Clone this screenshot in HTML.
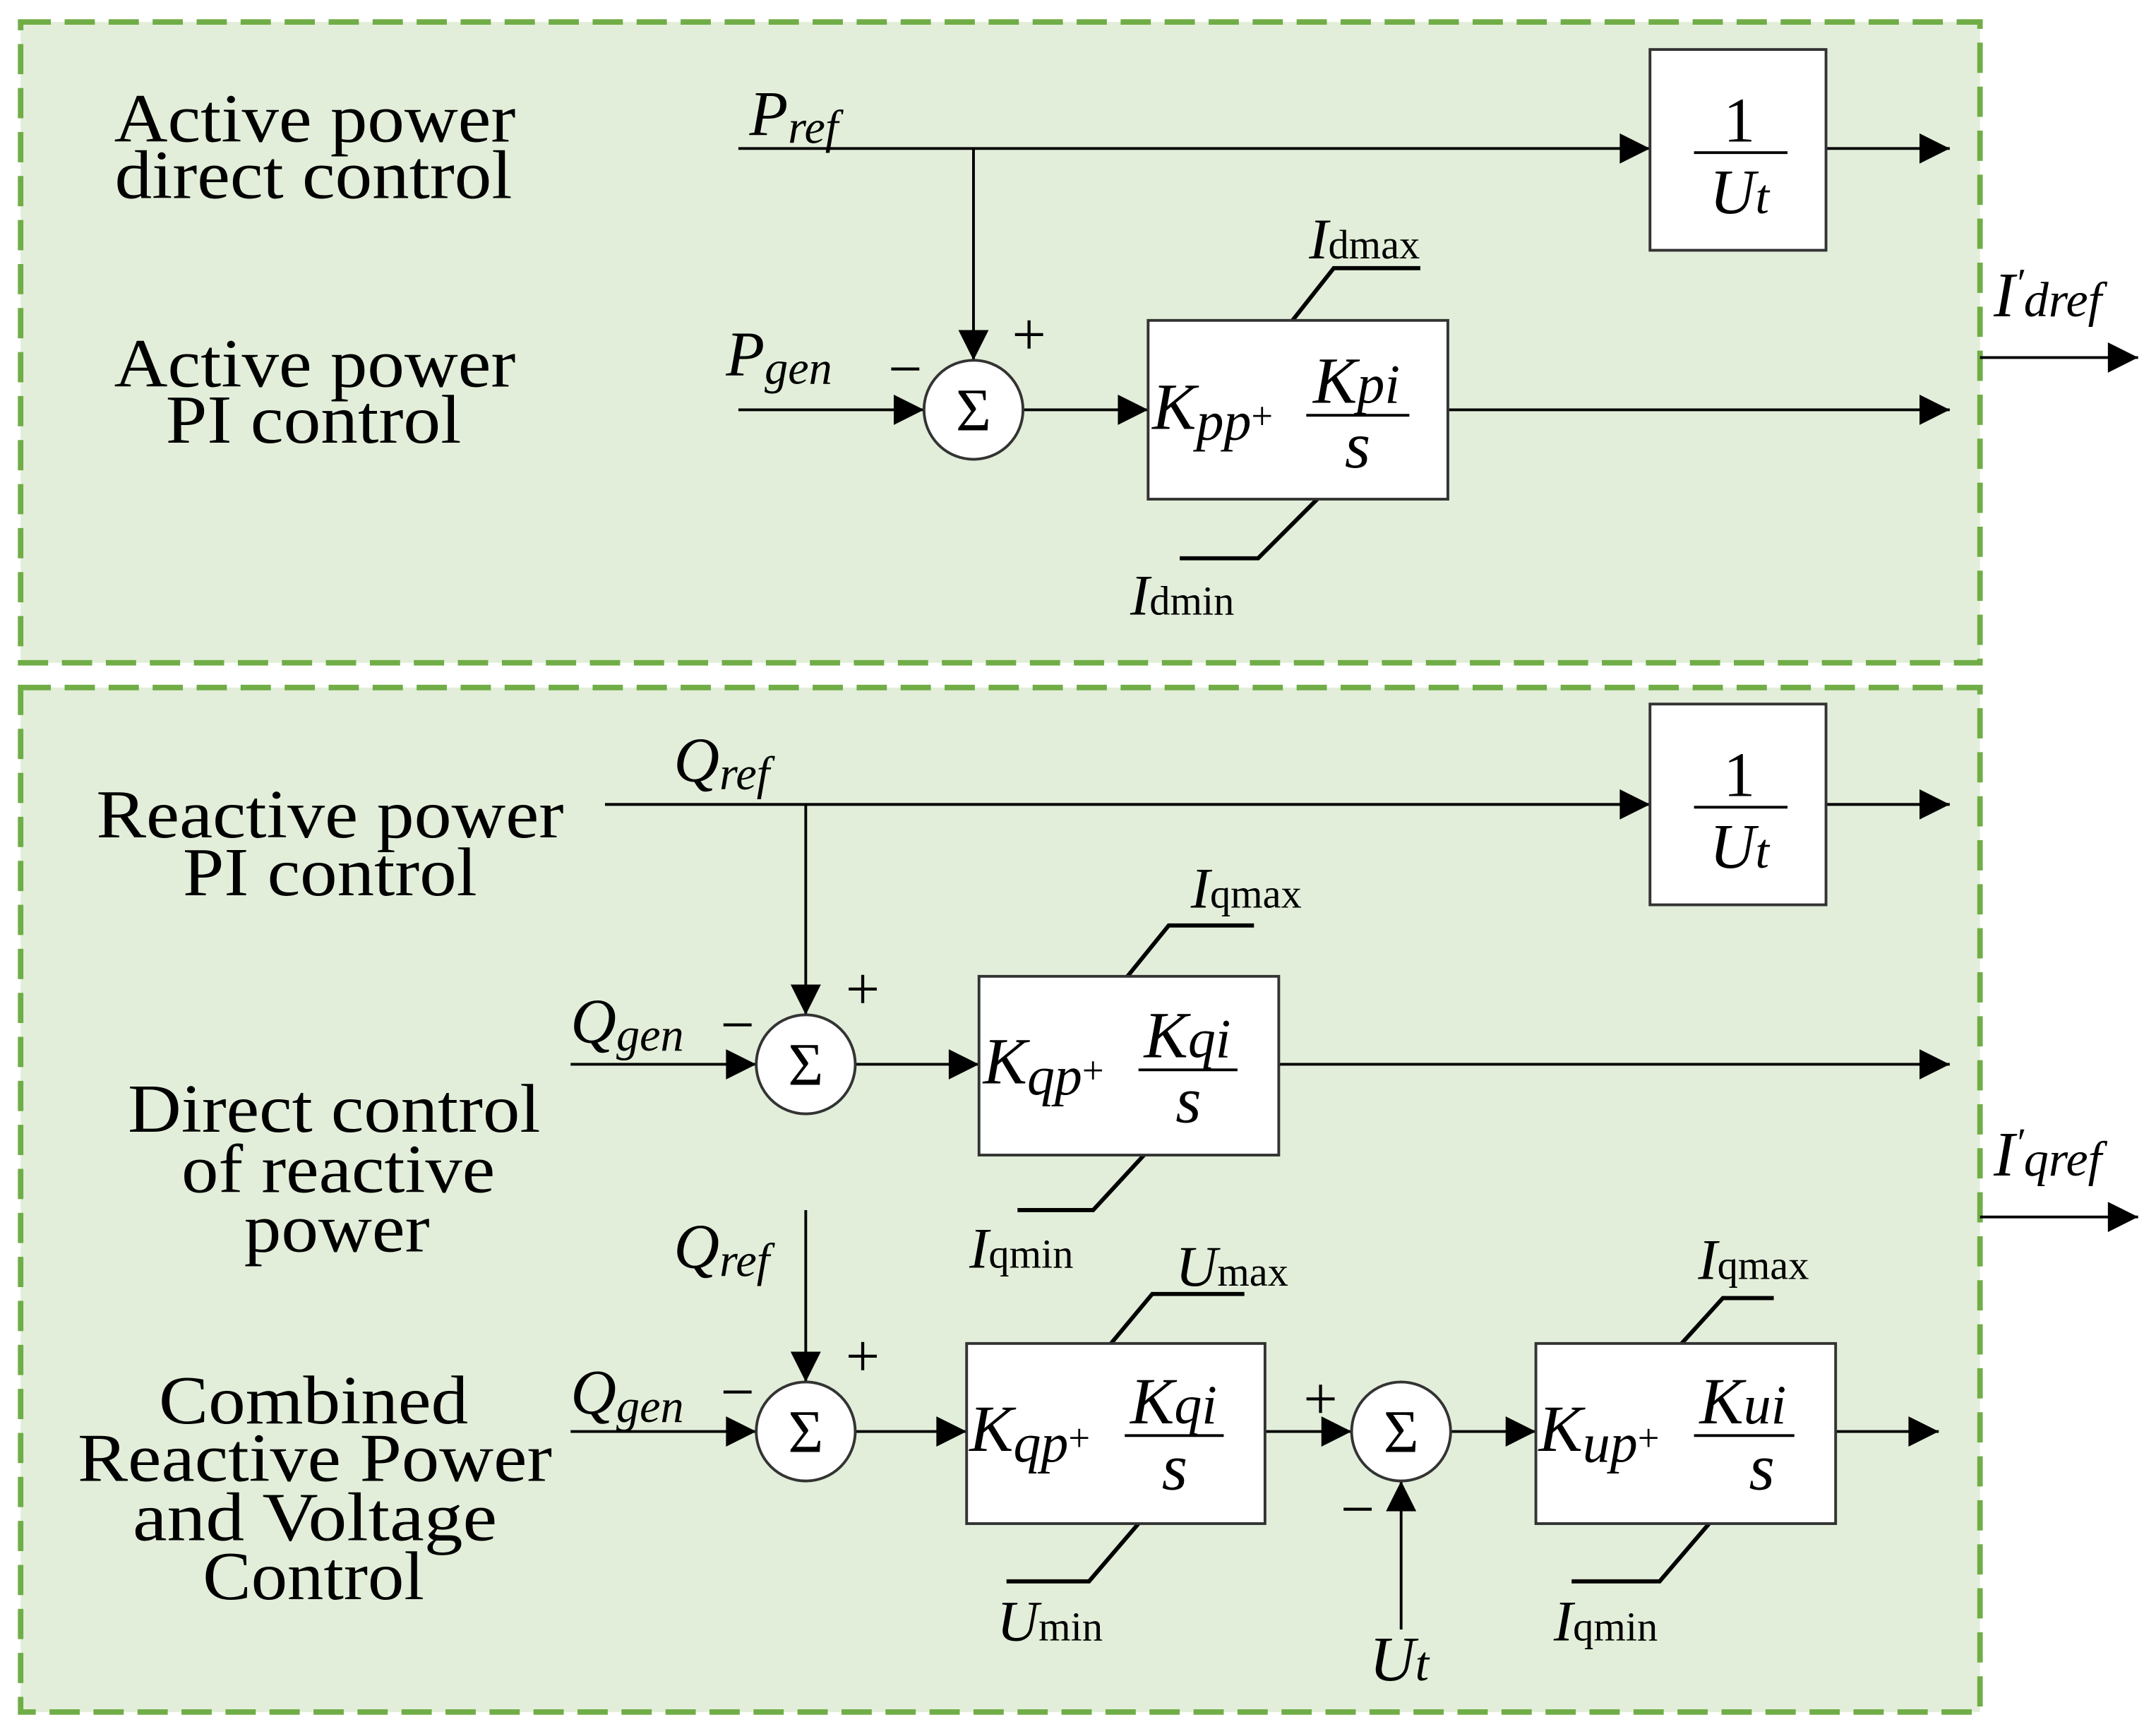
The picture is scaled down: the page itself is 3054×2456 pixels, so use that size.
<!DOCTYPE html>
<html><head><meta charset="utf-8"><style>
html,body{margin:0;padding:0;background:#fff;}
svg{display:block;}
text{font-family:"Liberation Serif",serif;fill:#000;}
.lbl{font-size:50px;text-anchor:middle;}
.it{font-style:italic;}
</style></head><body>
<svg width="3054" height="2456" viewBox="0 0 1568 1261" preserveAspectRatio="none" xmlns="http://www.w3.org/2000/svg">
<defs>
<marker id="A" viewBox="0 0 10 10" refX="10" refY="5" markerWidth="24" markerHeight="22" orient="auto" markerUnits="userSpaceOnUse"><path d="M0,0 L10,5 L0,10z" fill="#000"/></marker>
</defs>
<rect x="15" y="16" width="1425" height="466" fill="#e2eed9" stroke="#70ad47" stroke-width="4" stroke-dasharray="22,10"/>
<rect x="15" y="500" width="1425" height="745" fill="#e2eed9" stroke="#70ad47" stroke-width="4" stroke-dasharray="22,10"/>
<g stroke="#000" stroke-width="2" fill="none">
<line x1="537" y1="108" x2="1200" y2="108" marker-end="url(#A)"/>
<line x1="1328" y1="108" x2="1418" y2="108" marker-end="url(#A)"/>
<line x1="708" y1="108" x2="708" y2="262" marker-end="url(#A)"/>
<line x1="537" y1="298" x2="672" y2="298" marker-end="url(#A)"/>
<line x1="744" y1="298" x2="835" y2="298" marker-end="url(#A)"/>
<line x1="1053" y1="298" x2="1418" y2="298" marker-end="url(#A)"/>
<polyline points="940,233 970,195 1033,195" stroke-width="3"/>
<polyline points="958,363 915,406 858,406" stroke-width="3"/>
<line x1="1440" y1="260" x2="1555" y2="260" marker-end="url(#A)"/>
<line x1="440" y1="585" x2="1200" y2="585" marker-end="url(#A)"/>
<line x1="1328" y1="585" x2="1418" y2="585" marker-end="url(#A)"/>
<line x1="586" y1="585" x2="586" y2="738" marker-end="url(#A)"/>
<line x1="415" y1="774" x2="550" y2="774" marker-end="url(#A)"/>
<line x1="622" y1="774" x2="712" y2="774" marker-end="url(#A)"/>
<line x1="930" y1="774" x2="1418" y2="774" marker-end="url(#A)"/>
<polyline points="820,710 850,673 912,673" stroke-width="3"/>
<polyline points="832,840 795,880 740,880" stroke-width="3"/>
<line x1="1440" y1="885" x2="1555" y2="885" marker-end="url(#A)"/>
<line x1="586" y1="880" x2="586" y2="1005" marker-end="url(#A)"/>
<line x1="415" y1="1041" x2="550" y2="1041" marker-end="url(#A)"/>
<line x1="622" y1="1041" x2="703" y2="1041" marker-end="url(#A)"/>
<polyline points="808,977 838,941 905,941" stroke-width="3"/>
<polyline points="828,1108 792,1150 732,1150" stroke-width="3"/>
<line x1="920" y1="1041" x2="983" y2="1041" marker-end="url(#A)"/>
<line x1="1019" y1="1185" x2="1019" y2="1077" marker-end="url(#A)"/>
<line x1="1055" y1="1041" x2="1117" y2="1041" marker-end="url(#A)"/>
<line x1="1335" y1="1041" x2="1410" y2="1041" marker-end="url(#A)"/>
<polyline points="1223,977 1253,944 1290,944" stroke-width="3"/>
<polyline points="1243,1108 1207,1150 1143,1150" stroke-width="3"/>
</g>
<g fill="#fff" stroke="#333" stroke-width="2">
<rect x="1200" y="36" width="128" height="146"/>
<rect x="835" y="233" width="218" height="130"/>
<circle cx="708" cy="298" r="36"/>
<rect x="1200" y="512" width="128" height="146"/>
<rect x="712" y="710" width="218" height="130"/>
<circle cx="586" cy="774" r="36"/>
<circle cx="586" cy="1041" r="36"/>
<rect x="703" y="977" width="217" height="131"/>
<circle cx="1019" cy="1041" r="36"/>
<rect x="1117" y="977" width="218" height="131"/>
</g>
<g class="lbl" lengthAdjust="spacingAndGlyphs">
<text class="lbl" x="229" y="103" textLength="292" lengthAdjust="spacingAndGlyphs">Active power</text>
<text class="lbl" x="228" y="144" textLength="289" lengthAdjust="spacingAndGlyphs">direct control</text>
<text class="lbl" x="229" y="281" textLength="292" lengthAdjust="spacingAndGlyphs">Active power</text>
<text class="lbl" x="228" y="322" textLength="215" lengthAdjust="spacingAndGlyphs">PI control</text>
<text class="lbl" x="240" y="609" textLength="340" lengthAdjust="spacingAndGlyphs">Reactive power</text>
<text class="lbl" x="240" y="651" textLength="214" lengthAdjust="spacingAndGlyphs">PI control</text>
<text class="lbl" x="243" y="823" textLength="300" lengthAdjust="spacingAndGlyphs">Direct control</text>
<text class="lbl" x="246" y="867" textLength="228" lengthAdjust="spacingAndGlyphs">of reactive</text>
<text class="lbl" x="245" y="910" textLength="135" lengthAdjust="spacingAndGlyphs">power</text>
<text class="lbl" x="228" y="1035" textLength="225" lengthAdjust="spacingAndGlyphs">Combined</text>
<text class="lbl" x="229" y="1077" textLength="345" lengthAdjust="spacingAndGlyphs">Reactive Power</text>
<text class="lbl" x="229" y="1120" textLength="265" lengthAdjust="spacingAndGlyphs">and Voltage</text>
<text class="lbl" x="228" y="1163" textLength="161" lengthAdjust="spacingAndGlyphs">Control</text>
</g>
<g font-size="44" text-anchor="middle">
<text x="708" y="313">Σ</text><text x="586" y="789">Σ</text><text x="586" y="1056">Σ</text><text x="1019" y="1056">Σ</text>
</g>
<g font-size="44">
<text x="736" y="258">+</text><text x="646" y="283">−</text>
<text x="615" y="734">+</text><text x="524" y="760">−</text>
<text x="615" y="1001">+</text><text x="524" y="1027">−</text>
<text x="948" y="1032">+</text><text x="975" y="1112">−</text>
</g>
<g class="it" font-size="46">
<text x="545" y="98">P<tspan font-size="34" dy="6">ref</tspan></text>
<text x="528" y="273">P<tspan font-size="34" dy="6">gen</tspan></text>
<text x="490" y="568">Q<tspan font-size="34" dy="6">ref</tspan></text>
<text x="415" y="758">Q<tspan font-size="34" dy="6">gen</tspan></text>
<text x="490" y="922">Q<tspan font-size="34" dy="6">ref</tspan></text>
<text x="415" y="1028">Q<tspan font-size="34" dy="6">gen</tspan></text>
<text x="996" y="1222">U<tspan font-size="36">t</tspan></text>
<text x="1450" y="230">I<tspan font-size="30" dy="-14">′</tspan><tspan font-size="36" dy="14">dref</tspan></text>
<text x="1450" y="855">I<tspan font-size="30" dy="-14">′</tspan><tspan font-size="36" dy="14">qref</tspan></text>
</g>
<g font-size="42">
<text x="952" y="188"><tspan font-style="italic">I</tspan><tspan font-size="30">dmax</tspan></text>
<text x="822" y="447"><tspan font-style="italic">I</tspan><tspan font-size="30">dmin</tspan></text>
<text x="866" y="660"><tspan font-style="italic">I</tspan><tspan font-size="30">qmax</tspan></text>
<text x="705" y="922"><tspan font-style="italic">I</tspan><tspan font-size="30">qmin</tspan></text>
<text x="855" y="935"><tspan font-style="italic">U</tspan><tspan font-size="30">max</tspan></text>
<text x="725" y="1193"><tspan font-style="italic">U</tspan><tspan font-size="30">min</tspan></text>
<text x="1235" y="930"><tspan font-style="italic">I</tspan><tspan font-size="30">qmax</tspan></text>
<text x="1130" y="1193"><tspan font-style="italic">I</tspan><tspan font-size="30">qmin</tspan></text>
</g>
<g text-anchor="middle">
<text x="1265" y="103" font-size="46">1</text>
<line x1="1232" y1="111" x2="1300" y2="111" stroke="#000" stroke-width="2"/>
<text x="1265" y="155" font-size="46" class="it">U<tspan font-size="36">t</tspan></text>
<text x="1265" y="579" font-size="46">1</text>
<line x1="1232" y1="587" x2="1300" y2="587" stroke="#000" stroke-width="2"/>
<text x="1265" y="631" font-size="46" class="it">U<tspan font-size="36">t</tspan></text>
</g>
<g class="it" font-size="48">
<text x="838" y="312">K<tspan font-size="40" dy="8">pp</tspan><tspan font-size="28" font-style="normal" dy="-8">+</tspan></text>
<text x="955" y="293">K<tspan font-size="40">pi</tspan></text>
<line x1="950" y1="302" x2="1025" y2="302" stroke="#000" stroke-width="2"/>
<text x="978" y="340">s</text>
<text x="715" y="788">K<tspan font-size="40" dy="8">qp</tspan><tspan font-size="28" font-style="normal" dy="-8">+</tspan></text>
<text x="832" y="769">K<tspan font-size="40">qi</tspan></text>
<line x1="828" y1="778" x2="900" y2="778" stroke="#000" stroke-width="2"/>
<text x="855" y="816">s</text>
<text x="705" y="1055">K<tspan font-size="40" dy="8">qp</tspan><tspan font-size="28" font-style="normal" dy="-8">+</tspan></text>
<text x="822" y="1035">K<tspan font-size="40">qi</tspan></text>
<line x1="818" y1="1044" x2="890" y2="1044" stroke="#000" stroke-width="2"/>
<text x="845" y="1083">s</text>
<text x="1119" y="1055">K<tspan font-size="40" dy="8">up</tspan><tspan font-size="28" font-style="normal" dy="-8">+</tspan></text>
<text x="1236" y="1035">K<tspan font-size="40">ui</tspan></text>
<line x1="1232" y1="1044" x2="1305" y2="1044" stroke="#000" stroke-width="2"/>
<text x="1272" y="1083">s</text>
</g>
</svg>
</body></html>
